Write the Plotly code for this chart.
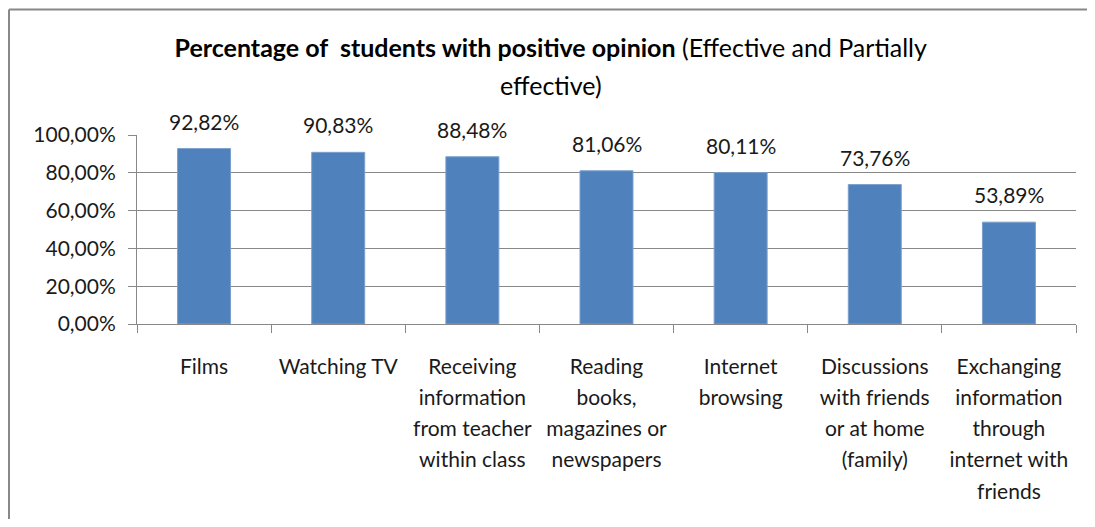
import plotly.graph_objects as go

categories = [
    "Films",
    "Watching TV",
    "Receiving<br>information<br>from teacher<br>within class",
    "Reading<br>books,<br>magazines or<br>newspapers",
    "Internet<br>browsing",
    "Discussions<br>with friends<br>or at home<br>(family)",
    "Exchanging<br>information<br>through<br>internet with<br>friends",
]
values = [0.9282, 0.9083, 0.8848, 0.8106, 0.8011, 0.7376, 0.5389]
y_ticks = [0, 0.2, 0.4, 0.6, 0.8, 1.0]

# page body has an 8px margin, so the figure is 16px smaller than the window
W, H = 1079, 511
L, R, T, B = 129, 11, 127, 195
pw, ph = W - L - R, H - T - B

FONT = "Lato, 'Open Sans', sans-serif"
BAR = "#4F81BD"
GRID = "#888888"
TXT = "#1a1a1a"


def sized(text, size):
    # wrap each line in a span so glyphs are smaller than the line pitch
    return "<br>".join(
        f"<span style='font-size:{size}px'>{ln}</span>" for ln in text.split("<br>")
    )


fig = go.Figure(
    go.Bar(
        x=categories,
        y=values,
        marker=dict(color=BAR, line=dict(color="#7BA0CD", width=1)),
        width=0.395,
        hoverinfo="skip",
    )
)

for c, v in zip(categories, values):
    fig.add_annotation(
        x=c, y=v, xref="x", yref="y",
        text=f"{v*100:.2f}%".replace(".", ","),
        showarrow=False, yanchor="bottom", yshift=13,
        font=dict(family=FONT, size=21, color=TXT),
    )


def px_x(p):
    return (p - L) / pw


def px_y(p):
    return (H - B - p) / ph


border = dict(color="#888888", width=2)
fig.add_shape(type="line", xref="paper", yref="paper",
              x0=px_x(1), x1=px_x(1), y0=px_y(H + 20), y1=px_y(1.5), line=border, layer="below")
fig.add_shape(type="line", xref="paper", yref="paper",
              x0=px_x(1), x1=px_x(W + 20), y0=px_y(1.5), y1=px_y(1.5), line=border, layer="below")

title_text = (
    "<span style='font-size:25px'><b>Percentage of  students with positive opinion</b> "
    "(Effective and Partially</span><br><span style='font-size:25px'>effective)</span>"
)

fig.update_layout(
    width=W, height=H,
    margin=dict(l=L, r=R, t=T, b=B),
    paper_bgcolor="white", plot_bgcolor="white",
    separators=",.",
    showlegend=False,
    font=dict(family=FONT, size=21, color=TXT),
    title=dict(
        text=title_text,
        x=0.503, xref="container", xanchor="center",
        y=1 - 49 / H, yanchor="top",
        font=dict(family=FONT, size=29, color="#000000"),
    ),
)

fig.update_yaxes(
    range=[0, 1.0],
    tickvals=y_ticks,
    tickformat=".2%",
    showgrid=True, gridcolor=GRID, gridwidth=1,
    showline=True, linecolor=GRID, linewidth=1,
    ticks="outside", ticklen=8, tickcolor=GRID,
    tickfont=dict(family=FONT, size=21, color=TXT),
    ticklabelstandoff=8,
    zeroline=False,
    fixedrange=True,
)
fig.update_xaxes(
    tickmode="array",
    tickvals=categories,
    ticktext=[sized(c, 21) for c in categories],
    showline=True, linecolor=GRID, linewidth=1,
    ticks="outside", tickson="boundaries", ticklen=8, tickcolor=GRID,
    tickfont=dict(family=FONT, size=24, color=TXT),
    ticklabelstandoff=20,
    fixedrange=True,
)

fig.write_html("out.html")
